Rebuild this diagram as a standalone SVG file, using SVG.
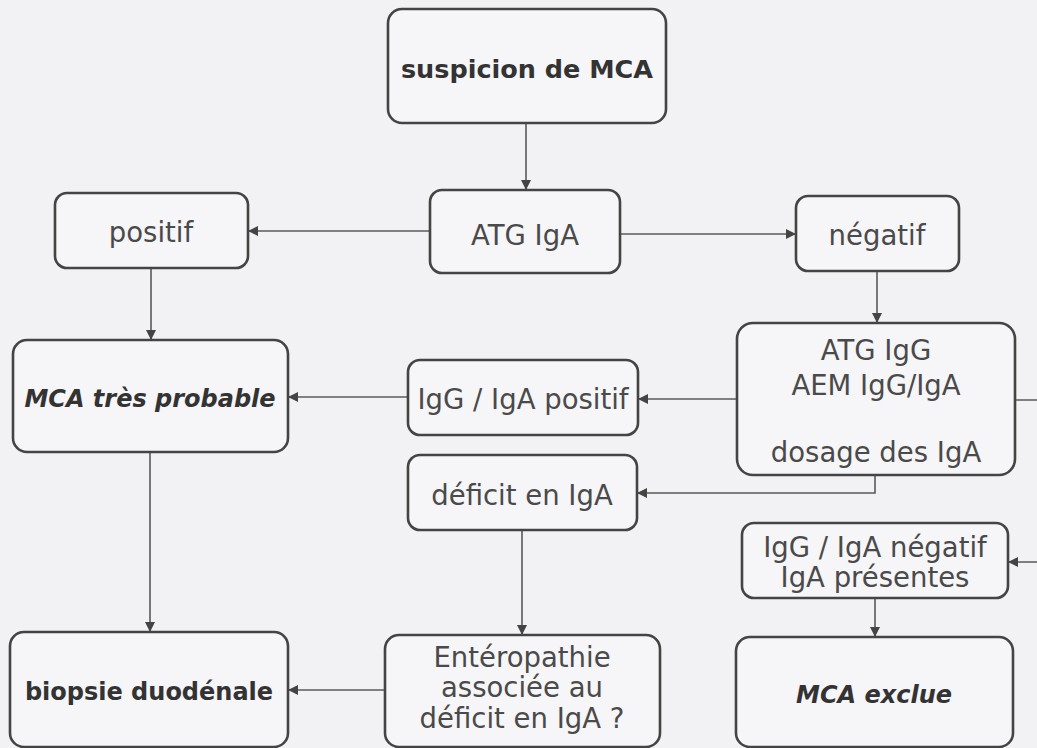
<svg xmlns="http://www.w3.org/2000/svg" width="1037" height="748" viewBox="0 0 1037 748">
<defs>
<style>
.box{fill:#f6f5f7;stroke:#444;stroke-width:2.6}
.t{font-family:"DejaVu Sans",sans-serif;font-size:27.5px;fill:#4a4a4a;text-anchor:middle}
.b{font-family:"DejaVu Sans",sans-serif;font-size:24px;font-weight:bold;fill:#333;text-anchor:middle}
.bi{font-style:italic}
.c{fill:none;stroke:#5a5a5a;stroke-width:1.6}
</style>
<marker id="ah" markerUnits="userSpaceOnUse" markerWidth="12" markerHeight="12" refX="10" refY="5" orient="auto">
<path d="M0,0 L10,5 L0,10 Z" fill="#444"/>
</marker>
</defs>
<rect width="1037" height="748" fill="#f2f1f3"/>
<g id="connectors">
<path class="c" d="M526,123 V190" marker-end="url(#ah)"/>
<path class="c" d="M430,231 H248" marker-end="url(#ah)"/>
<path class="c" d="M620,234 H796" marker-end="url(#ah)"/>
<path class="c" d="M151,268 V340" marker-end="url(#ah)"/>
<path class="c" d="M877,271 V323" marker-end="url(#ah)"/>
<path class="c" d="M408,397 H288" marker-end="url(#ah)"/>
<path class="c" d="M737,399 H638" marker-end="url(#ah)"/>
<path class="c" d="M875,475 V493 H637" marker-end="url(#ah)"/>
<path class="c" d="M1015,400 H1045 V562 H1008" marker-end="url(#ah)"/>
<path class="c" d="M875,598 V637" marker-end="url(#ah)"/>
<path class="c" d="M150,452 V632" marker-end="url(#ah)"/>
<path class="c" d="M522,530 V635" marker-end="url(#ah)"/>
<path class="c" d="M385,690 H288" marker-end="url(#ah)"/>
</g>
<g id="suspicion">
<rect class="box" x="388" y="9" width="278" height="114" rx="14"/>
<text class="b" x="527" y="78" style="font-size:25.5px">suspicion de MCA</text>
</g>
<g id="atg-iga">
<rect class="box" x="430" y="190" width="190" height="83" rx="12"/>
<text class="t" x="525" y="245">ATG IgA</text>
</g>
<g id="positif">
<rect class="box" x="55" y="193" width="193" height="75" rx="12"/>
<text class="t" x="151" y="242">positif</text>
</g>
<g id="negatif">
<rect class="box" x="796" y="196" width="163" height="75" rx="12"/>
<text class="t" x="877" y="245">négatif</text>
</g>
<g id="mca-probable">
<rect class="box" x="13" y="340" width="275" height="112" rx="14"/>
<text class="b bi" x="150" y="407">MCA très probable</text>
</g>
<g id="igg-iga-positif">
<rect class="box" x="408" y="360" width="230" height="75" rx="12"/>
<text class="t" x="523" y="409">IgG / IgA positif</text>
</g>
<g id="deficit">
<rect class="box" x="408" y="455" width="229" height="75" rx="12"/>
<text class="t" x="522" y="505">déficit en IgA</text>
</g>
<g id="atg-igg">
<rect class="box" x="737" y="323" width="278" height="152" rx="16"/>
<text class="t" x="876" y="360">ATG IgG</text>
<text class="t" x="876" y="395">AEM IgG/IgA</text>
<text class="t" x="876" y="462">dosage des IgA</text>
</g>
<g id="igg-iga-negatif">
<rect class="box" x="742" y="523" width="266" height="75" rx="12"/>
<text class="t" x="875" y="557">IgG / IgA négatif</text>
<text class="t" x="875" y="587">IgA présentes</text>
</g>
<g id="mca-exclue">
<rect class="box" x="736" y="637" width="277" height="110" rx="14"/>
<text class="b bi" x="874" y="703">MCA exclue</text>
</g>
<g id="biopsie">
<rect class="box" x="10" y="632" width="278" height="115" rx="14"/>
<text class="b" x="149" y="700">biopsie duodénale</text>
</g>
<g id="enteropathie">
<rect class="box" x="385" y="635" width="275" height="112" rx="14"/>
<text class="t" x="522" y="667">Entéropathie</text>
<text class="t" x="522" y="697">associée au</text>
<text class="t" x="522" y="728">déficit en IgA ?</text>
</g>
</svg>
